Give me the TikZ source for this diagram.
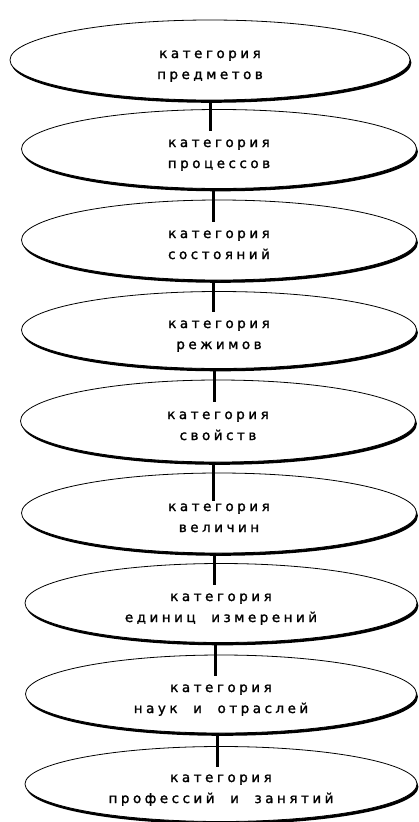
\documentclass[tikz,border=0pt]{standalone}
\usepackage{fontspec}
\usepackage{tikz}
\usetikzlibrary{shapes.geometric, shadows, calc}
\newfontfamily\catfont[LetterSpace=26, FakeBold=1.5]{DejaVu Sans}

\begin{document}
\begin{tikzpicture}[
  x=1pt, y=-1pt,
  cat/.style={ellipse, draw, line width=0.8pt, fill=white,
              minimum width=395pt, minimum height=79pt, inner sep=0pt,
              align=center, font=\catfont\fontsize{13.5}{21}\selectfont,
              text height=41pt, text depth=3pt,
              drop shadow={shadow xshift=1.4pt, shadow yshift=-2.8pt,
                           fill=black, opacity=1}},
  link/.style={line width=3pt},
]
\useasboundingbox (0,0) rectangle (418,822);

\node[cat, minimum width=400pt, minimum height=80pt] (pred) at (210,60)
  {категория\\предметов};
\node[cat] (proc) at (219,149) {категория\\процессов};
\node[cat, minimum height=80pt] (sost) at (219,240) {категория\\состояний};
\node[cat, minimum height=77pt] (rezh) at (219,330) {категория\\режимов};
\node[cat, minimum height=82pt] (svoj) at (218,421) {категория\\свойств};
\node[cat, minimum height=80pt] (velich) at (219,513) {категория\\величин};
\node[cat, minimum width=392pt] (edin) at (221,603)
  {категория\\единиц\ \ измерений};
\node[cat, minimum width=391pt, minimum height=78pt] (nauk) at (221,694)
  {категория\\наук\ \ и\ \ отраслей};
\node[cat, minimum width=392pt, minimum height=75pt] (prof) at (221,784)
  {категория\\профессий\ \ и\ \ занятий};

% stems reach into the next ellipse, just above its text
\coordinate (m2) at ($(proc.north)!.55!(proc.center)$);
\coordinate (m3) at ($(sost.north)!.55!(sost.center)$);
\coordinate (m4) at ($(rezh.north)!.55!(rezh.center)$);
\coordinate (m5) at ($(svoj.north)!.55!(svoj.center)$);
\coordinate (m6) at ($(velich.north)!.7!(velich.center)$);
\coordinate (m7) at ($(edin.north)!.55!(edin.center)$);
\coordinate (m8) at ($(nauk.north)!.55!(nauk.center)$);
\coordinate (m9) at ($(prof.north)!.55!(prof.center)$);

\draw[link] (pred.south) -- (pred.south |- m2);
\draw[link] ([xshift=-6pt]proc.south) -- ([xshift=-6pt]proc.south |- m3);
\draw[link] ([xshift=-6pt]sost.south) -- ([xshift=-6pt]sost.south |- m4);
\draw[link] ([xshift=-5pt]rezh.south) -- ([xshift=-5pt]rezh.south |- m5);
\draw[link] ([xshift=-5pt]svoj.south) -- ([xshift=-5pt]svoj.south |- m6);
\draw[link] ([xshift=-5pt]velich.south) -- ([xshift=-5pt]velich.south |- m7);
\draw[link] ([xshift=-6pt]edin.south) -- ([xshift=-6pt]edin.south |- m8);
\draw[link] ([xshift=-4pt]nauk.south) -- ([xshift=-4pt]nauk.south |- m9);
\end{tikzpicture}
\end{document}
